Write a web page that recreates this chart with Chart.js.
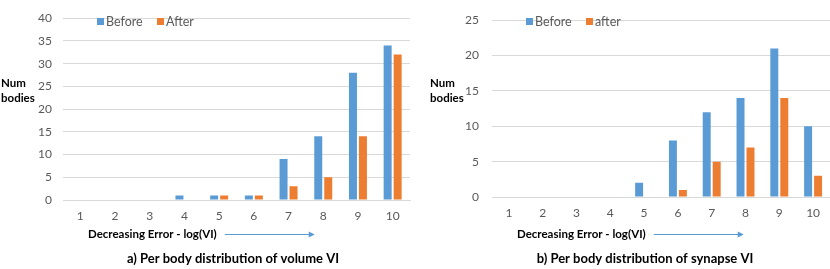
<!DOCTYPE html>
<html>
<head>
<meta charset="utf-8">
<script src="https://cdn.jsdelivr.net/npm/chart.js@4.4.0/dist/chart.umd.min.js"></script>
<style>
  html, body { margin: 0; padding: 0; background: #fff; }
  #wrap { position: relative; width: 830px; height: 269px; }
  canvas { position: absolute; top: 0; }
</style>
</head>
<body>
<div id="wrap">
  <canvas id="chartA" width="415" height="269" style="left:0"></canvas>
  <canvas id="chartB" width="415" height="269" style="left:415px"></canvas>
</div>
<script>
// Categories shared by both panels
var categories = ["1", "2", "3", "4", "5", "6", "7", "8", "9", "10"];

// a) volume VI
var volumeBefore = [0, 0, 0, 1, 1, 1, 9, 14, 28, 34];
var volumeAfter = [0, 0, 0, 0, 1, 1, 3, 5, 14, 32];

// b) synapse VI
var synapseBefore = [0, 0, 0, 0, 2, 8, 12, 14, 21, 10];
var synapseAfter = [0, 0, 0, 0, 0, 1, 5, 7, 14, 3];

var blue = "#5b9bd5";
var orange = "#ed7d31";
var textGray = "#595959";
var fontFamily = "Lato, 'Open Sans', sans-serif";

// Draws the extra text: axis titles, arrow, legend and caption
var decorPlugin = {
  id: "decor",
  afterDraw: function(chart) {
    var ctx = chart.ctx;
    var area = chart.chartArea;
    var d = chart.options.plugins.decor;
    ctx.save();

    // y axis title
    ctx.fillStyle = "#000";
    ctx.font = "bold 11.5px " + fontFamily;
    ctx.textBaseline = "middle";
    ctx.textAlign = "left";
    ctx.fillText("Num", area.left - 62, 83);
    ctx.fillText("bodies", area.left - 62, 98);

    // legend
    ctx.font = "12.5px " + fontFamily;
    ctx.fillStyle = blue;
    ctx.fillRect(area.left + 34, 18, 7, 7);
    ctx.fillStyle = textGray;
    ctx.fillText(d.labels[0], area.left + 43, 21.5);
    ctx.fillStyle = orange;
    ctx.fillRect(area.left + 94, 18, 7, 7);
    ctx.fillStyle = textGray;
    ctx.fillText(d.labels[1], area.left + 103, 21.5);

    // x axis title + arrow
    ctx.fillStyle = "#000";
    ctx.font = "bold 11.5px " + fontFamily;
    var tx = area.left + 25;
    ctx.fillText("Decreasing Error - log(VI)", tx, 234);
    var w = ctx.measureText("Decreasing Error - log(VI)").width;
    var ax0 = tx + w + 8;
    var ax1 = ax0 + 90;
    ctx.strokeStyle = blue;
    ctx.lineWidth = 1;
    ctx.beginPath();
    ctx.moveTo(ax0, 234.5);
    ctx.lineTo(ax1 - 5, 234.5);
    ctx.stroke();
    ctx.fillStyle = blue;
    ctx.beginPath();
    ctx.moveTo(ax1, 234.5);
    ctx.lineTo(ax1 - 6, 231.5);
    ctx.lineTo(ax1 - 6, 237.5);
    ctx.closePath();
    ctx.fill();

    // caption
    ctx.fillStyle = "#000";
    ctx.font = "bold 13px " + fontFamily;
    ctx.textAlign = "center";
    ctx.fillText(d.caption, d.captionX, 259);
    ctx.restore();
  }
};

function makeChart(canvasId, before, after, labels, yMax, opts) {
  return new Chart(document.getElementById(canvasId), {
    type: "bar",
    data: {
      labels: categories,
      datasets: [
        { label: labels[0], data: before, backgroundColor: blue,
          categoryPercentage: opts.catPct, barPercentage: 0.8 },
        { label: labels[1], data: after, backgroundColor: orange,
          categoryPercentage: opts.catPct, barPercentage: 0.8 }
      ]
    },
    options: {
      responsive: false,
      animation: false,
      layout: { padding: { top: opts.top, right: opts.right, left: 0, bottom: 0 } },
      plugins: {
        legend: { display: false },
        tooltip: { enabled: false },
        decor: { labels: labels, caption: opts.caption, captionX: opts.captionX }
      },
      scales: {
        x: {
          grid: { display: false, drawTicks: false },
          border: { display: true, color: "#d9d9d9" },
          ticks: { color: textGray, font: { family: fontFamily, size: 12 }, padding: 9 },
          afterFit: function(scale) { scale.height = opts.xHeight; }
        },
        y: {
          min: 0,
          max: yMax,
          ticks: { stepSize: 5, color: textGray, font: { family: fontFamily, size: 12 }, padding: opts.yPad },
          grid: { color: "#d9d9d9", drawTicks: false },
          border: { display: false },
          afterFit: function(scale) { scale.width = opts.yWidth; }
        }
      }
    },
    plugins: [decorPlugin]
  });
}

makeChart("chartA", volumeBefore, volumeAfter, ["Before", "After"], 40, {
  catPct: 0.576, top: 7, right: 5, xHeight: 69, yWidth: 63, yPad: 11,
  caption: "a) Per body distribution of volume VI", captionX: 233
});

makeChart("chartB", synapseBefore, synapseAfter, ["Before", "after"], 25, {
  catPct: 0.59, top: 5, right: 0, xHeight: 72, yWidth: 77, yPad: 13,
  caption: "b) Per body distribution of synapse VI", captionX: 230
});
</script>
</body>
</html>
